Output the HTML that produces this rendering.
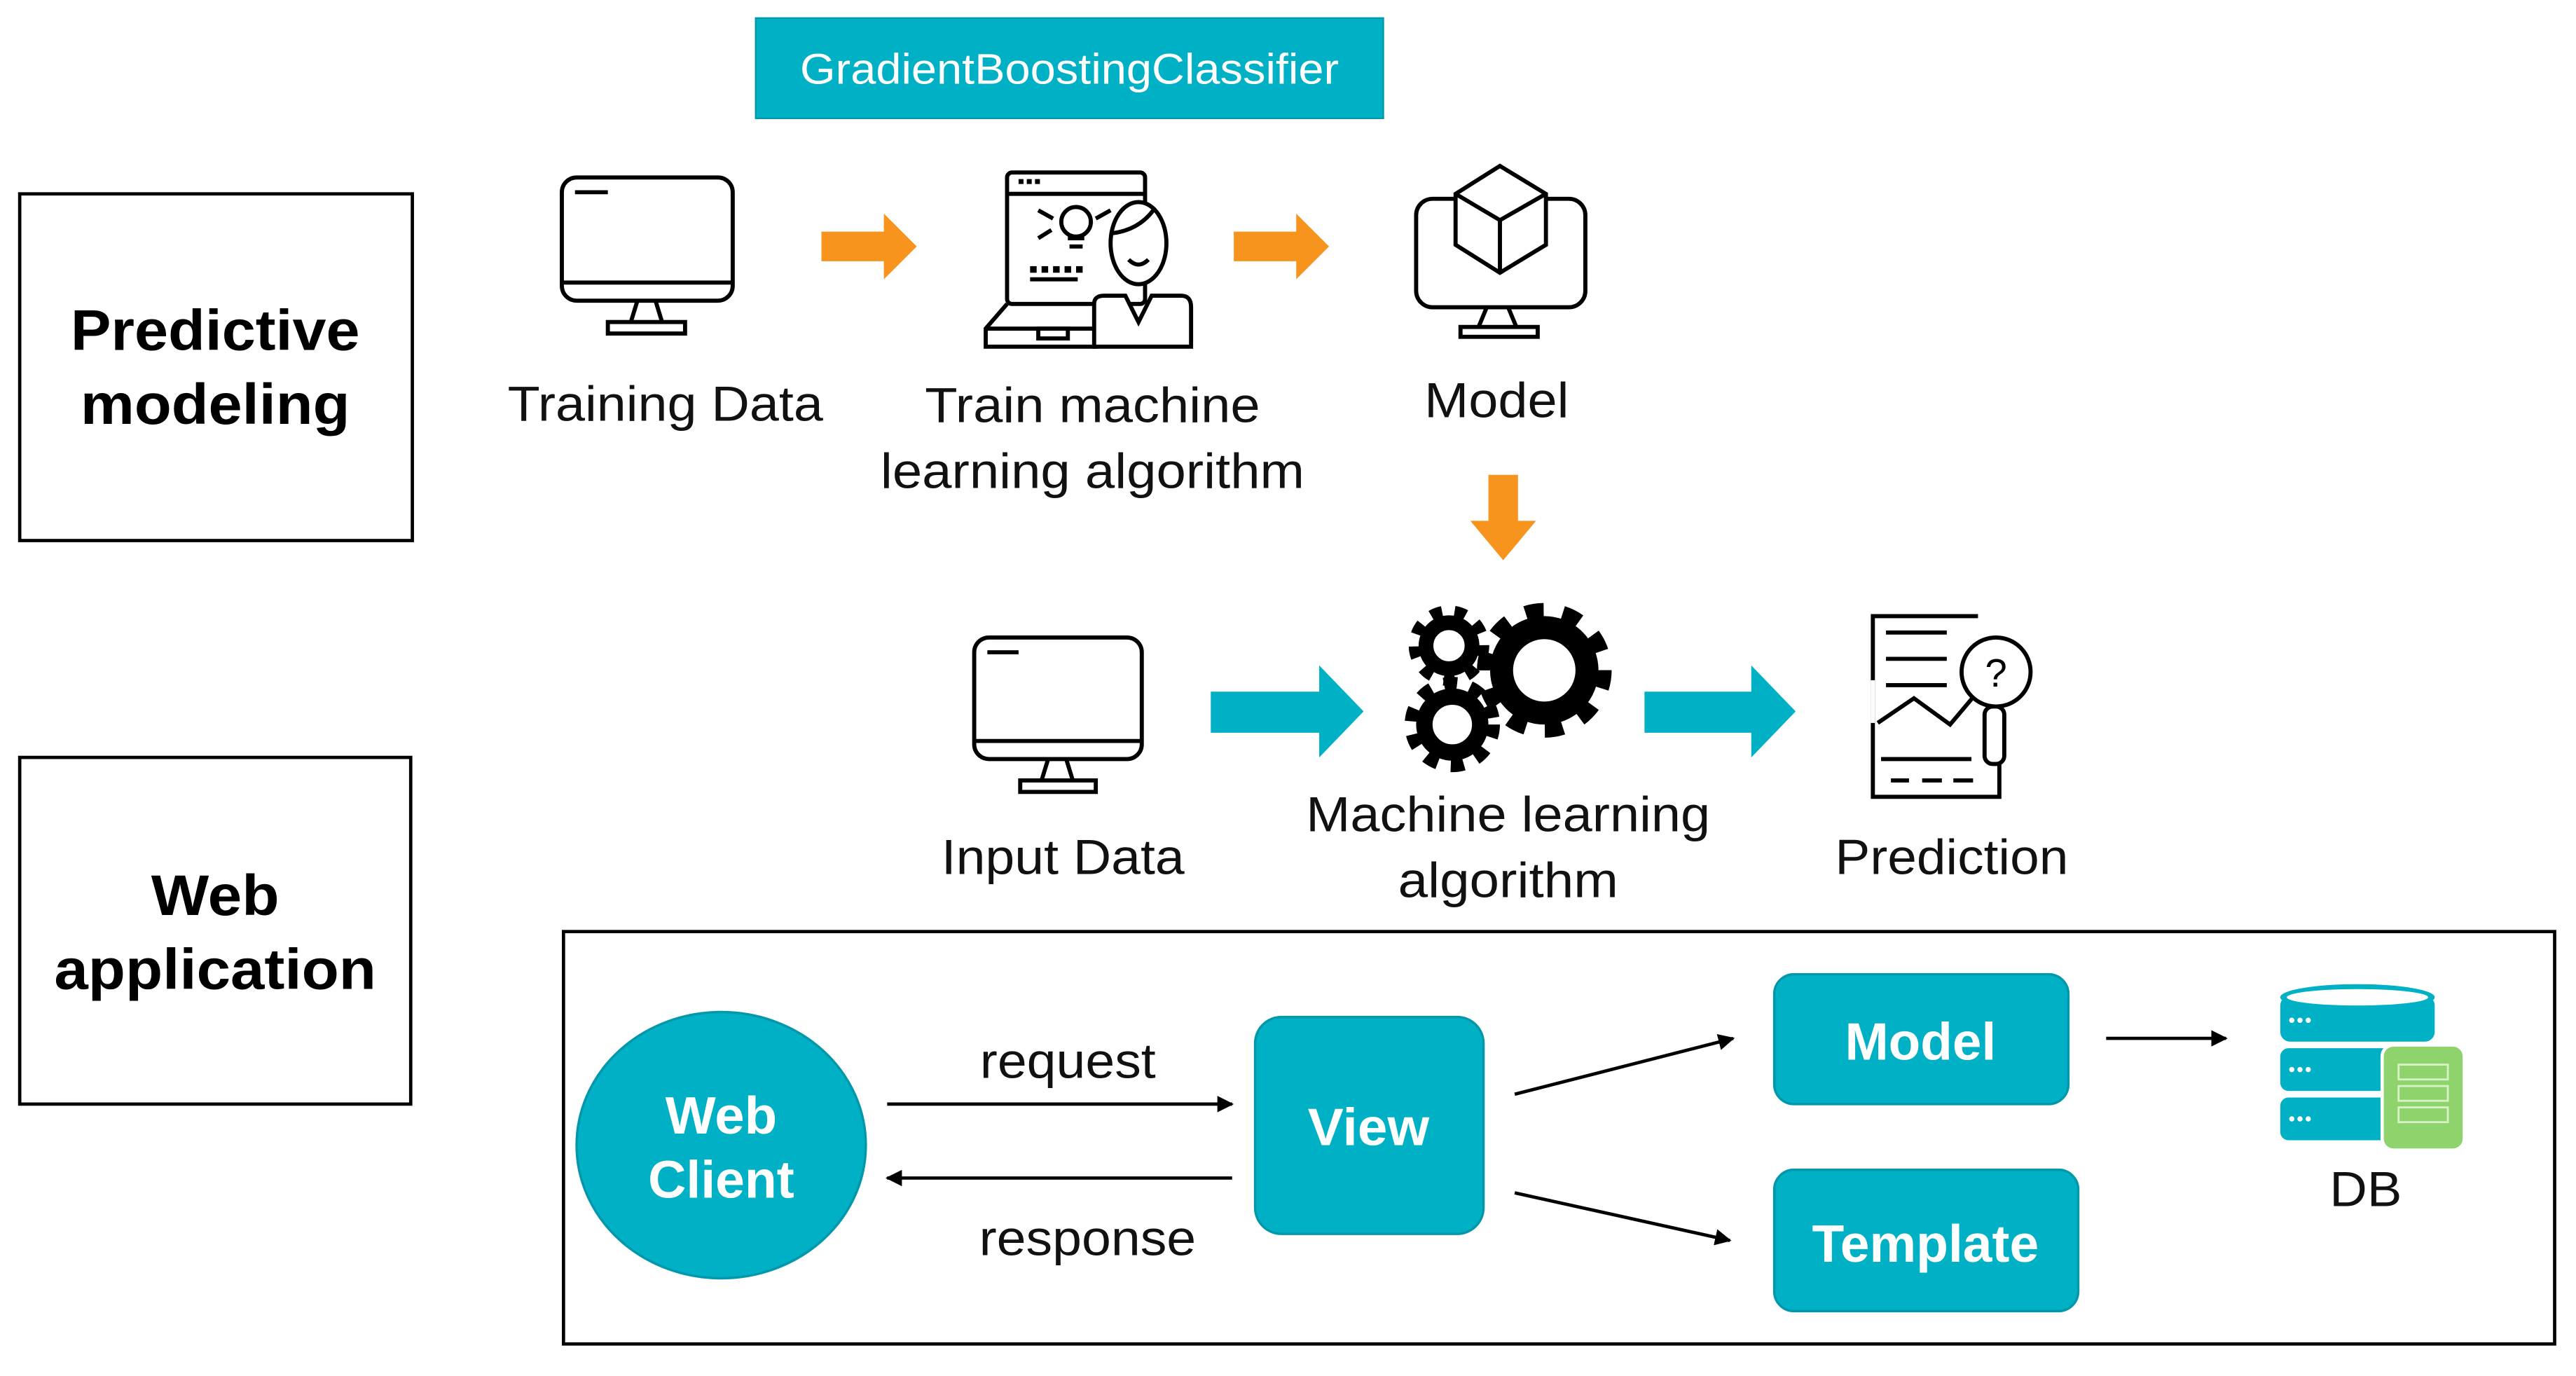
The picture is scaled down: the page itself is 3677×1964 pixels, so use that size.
<!DOCTYPE html>
<html><head><meta charset="utf-8"><style>
html,body{margin:0;padding:0;background:#fff;}
svg{display:block;}
text{font-family:"Liberation Sans",Arial,sans-serif;}
</style></head><body>
<svg width="3677" height="1964" viewBox="0 0 1568 837.5" preserveAspectRatio="none" xmlns="http://www.w3.org/2000/svg">
<defs>
<marker id="ah" markerWidth="10" markerHeight="10" refX="9" refY="5" orient="auto" markerUnits="userSpaceOnUse">
<path d="M0,0 L10,5 L0,10 z" fill="#000"/></marker>
</defs>
<rect width="1568" height="837.5" fill="#fff"/>
<rect x="460" y="11" width="382" height="61" fill="#00B0C4" stroke="#0098aa" stroke-width="1"/>
<text x="651" y="51" font-size="26" fill="#fff" text-anchor="middle" textLength="328" lengthAdjust="spacingAndGlyphs">GradientBoostingClassifier</text>
<rect x="12" y="118" width="239" height="211" fill="none" stroke="#000" stroke-width="2"/>
<text x="131" y="213" font-size="35" font-weight="bold" text-anchor="middle" textLength="176" lengthAdjust="spacingAndGlyphs">Predictive</text>
<text x="131" y="258" font-size="35" font-weight="bold" text-anchor="middle" textLength="164" lengthAdjust="spacingAndGlyphs">modeling</text>
<rect x="12" y="461" width="238" height="211" fill="none" stroke="#000" stroke-width="2"/>
<text x="131" y="557" font-size="35" font-weight="bold" text-anchor="middle" textLength="78" lengthAdjust="spacingAndGlyphs">Web</text>
<text x="131" y="602" font-size="35" font-weight="bold" text-anchor="middle" textLength="196" lengthAdjust="spacingAndGlyphs">application</text>

<g fill="none" stroke="#000" stroke-width="2.5">
<rect x="342" y="108" width="104" height="75" rx="9"/>
<line x1="342" y1="172" x2="446" y2="172"/>
<line x1="350" y1="117" x2="370" y2="117"/>
<path d="M388,183 L384,196 M399,183 L403,196"/>
<rect x="370" y="196" width="47" height="7"/>
<rect x="593" y="388" width="102" height="74" rx="9"/>
<line x1="593" y1="451" x2="695" y2="451"/>
<line x1="601" y1="397" x2="620" y2="397"/>
<path d="M638,462 L634,475 M649,462 L653,475"/>
<rect x="621" y="475" width="46" height="7"/>
<rect x="862" y="121" width="103" height="66" rx="10"/>
<path d="M905,187 L900,199 M918,187 L923,199"/>
<rect x="889" y="199" width="47" height="6"/>
<path d="M913,101 L941,118 L941,149 L913,166 L886,149 L886,118 Z" fill="#fff"/>
<path d="M886,118 L913,134 L941,118 M913,134 L913,166"/>
<rect x="613" y="105" width="84" height="80" rx="3"/>
<line x1="613" y1="118" x2="697" y2="118"/>
<path d="M613,185 L600,200 L600,211 L668,211 M600,200 L668,200"/>
<rect x="632" y="200" width="18" height="6"/>
<circle cx="655" cy="135" r="9"/>
<path d="M650,145 L660,145 M651,150 L659,150"/>
<path d="M632,128 L641,133 M632,145 L640,140 M667,133 L676,128"/>
<ellipse cx="693" cy="148" rx="17" ry="25" fill="#fff"/>
<path d="M677,142 Q693,140 702,128"/>
<path d="M687,158 Q693,164 699,158"/>
<path d="M666,211 L666,185 Q666,180 672,180 L685,180 L693,196 L701,180 L719,180 Q725,180 725,187 L725,211 Z" fill="#fff"/>
<line x1="627" y1="170" x2="656" y2="170"/>
<path d="M1204,375 L1140,375 L1140,485 L1217,485 L1217,465"/>
<path d="M1140,414 L1140,440" stroke="#fff"/>
<path d="M1148,385 L1185,385 M1148,401 L1185,401 M1148,417 L1185,417"/>
<path d="M1143,440 L1165,425 L1187,441 L1203,422"/>
<path d="M1145,462 L1200,462"/>
<path d="M1151,475 L1162,475 M1170,475 L1182,475 M1189,475 L1201,475"/>
<circle cx="1215" cy="409" r="21" fill="#fff"/>
<rect x="1208" y="430" width="12" height="35" rx="5" fill="#fff"/>
</g>
<text x="1215" y="418" font-size="24" text-anchor="middle">?</text>
<g fill="#000">
<rect x="620" y="109" width="3" height="3"/><rect x="625" y="109" width="3" height="3"/><rect x="630" y="109" width="3" height="3"/>
<rect x="627" y="162" width="4" height="4"/><rect x="634" y="162" width="4" height="4"/><rect x="641" y="162" width="4" height="4"/><rect x="648" y="162" width="4" height="4"/><rect x="655" y="162" width="4" height="4"/>
</g>
<g fill="none" stroke="#000">
<circle cx="940" cy="408" r="26" stroke-width="14"/>
<circle cx="940" cy="408" r="36" stroke-width="10" stroke-dasharray="11 11.6"/>
<circle cx="882" cy="393" r="14" stroke-width="9"/>
<circle cx="882" cy="393" r="21" stroke-width="7" stroke-dasharray="7 7.6"/>
<circle cx="884" cy="441" r="17" stroke-width="10"/>
<circle cx="884" cy="441" r="25" stroke-width="8" stroke-dasharray="8 8.1"/>
</g>
<g font-size="30" text-anchor="middle" fill="#111" lengthAdjust="spacingAndGlyphs">
<text x="405" y="256" textLength="192" lengthAdjust="spacingAndGlyphs">Training Data</text>
<text x="665" y="257" textLength="204" lengthAdjust="spacingAndGlyphs">Train machine</text>
<text x="665" y="297" textLength="258" lengthAdjust="spacingAndGlyphs">learning algorithm</text>
<text x="911" y="254" textLength="88" lengthAdjust="spacingAndGlyphs">Model</text>
<text x="647" y="532" textLength="148" lengthAdjust="spacingAndGlyphs">Input Data</text>
<text x="918" y="506" textLength="246" lengthAdjust="spacingAndGlyphs">Machine learning</text>
<text x="918" y="546" textLength="134" lengthAdjust="spacingAndGlyphs">algorithm</text>
<text x="1188" y="532" textLength="142" lengthAdjust="spacingAndGlyphs">Prediction</text>
</g>
<g fill="#F7941D">
<path d="M500,141 L538,141 L538,130 L558,150 L538,170 L538,159 L500,159 Z"/>
<path d="M751,141 L789,141 L789,130 L809,150 L789,170 L789,159 L751,159 Z"/>
<path d="M906,289 L924,289 L924,317 L935,317 L915,341 L895,317 L906,317 Z"/>
</g>
<g fill="#00B0C4">
<path d="M737,421 L803,421 L803,405 L830,433 L803,461 L803,446 L737,446 Z"/>
<path d="M1001,421 L1066,421 L1066,405 L1093,433 L1066,461 L1066,446 L1001,446 Z"/>
</g>
<rect x="343" y="567" width="1212" height="251" fill="none" stroke="#000" stroke-width="2"/>
<ellipse cx="439" cy="697" rx="88" ry="81" fill="#00B0C4" stroke="#0098aa" stroke-width="1.5"/>
<text x="439" y="690" font-size="32" font-weight="bold" fill="#fff" text-anchor="middle" textLength="68" lengthAdjust="spacingAndGlyphs">Web</text>
<text x="439" y="729" font-size="32" font-weight="bold" fill="#fff" text-anchor="middle" textLength="89" lengthAdjust="spacingAndGlyphs">Client</text>
<rect x="764" y="619" width="139" height="132" rx="16" fill="#00B0C4" stroke="#0098aa" stroke-width="1.5"/>
<text x="833" y="697" font-size="32" font-weight="bold" fill="#fff" text-anchor="middle" textLength="74" lengthAdjust="spacingAndGlyphs">View</text>
<rect x="1080" y="593" width="179" height="79" rx="12" fill="#00B0C4" stroke="#0098aa" stroke-width="1.5"/>
<text x="1169" y="645" font-size="32" font-weight="bold" fill="#fff" text-anchor="middle" textLength="92" lengthAdjust="spacingAndGlyphs">Model</text>
<rect x="1080" y="712" width="185" height="86" rx="12" fill="#00B0C4" stroke="#0098aa" stroke-width="1.5"/>
<text x="1172" y="768" font-size="32" font-weight="bold" fill="#fff" text-anchor="middle" textLength="138" lengthAdjust="spacingAndGlyphs">Template</text>
<g stroke="#000" stroke-width="2" fill="none" marker-end="url(#ah)">
<line x1="540" y1="672" x2="750" y2="672"/>
<line x1="750" y1="717" x2="540" y2="717"/>
<line x1="922" y1="666" x2="1055" y2="632"/>
<line x1="922" y1="726" x2="1053" y2="755"/>
<line x1="1282" y1="632" x2="1355" y2="632"/>
</g>
<g font-size="30" text-anchor="middle" fill="#111">
<text x="650" y="656" textLength="107" lengthAdjust="spacingAndGlyphs">request</text>
<text x="662" y="764" textLength="132" lengthAdjust="spacingAndGlyphs">response</text>
<text x="1440" y="734" textLength="44" lengthAdjust="spacingAndGlyphs">DB</text>
</g>
<g>
<rect x="1388" y="606" width="94" height="28" rx="6" fill="#00B0C4"/>
<ellipse cx="1435" cy="607" rx="47" ry="8" fill="#00B0C4"/>
<ellipse cx="1435" cy="607" rx="43" ry="5" fill="#fff"/>
<rect x="1388" y="638" width="94" height="26" rx="5" fill="#00B0C4"/>
<rect x="1388" y="668" width="94" height="26" rx="5" fill="#00B0C4"/>
<rect x="1450" y="636" width="50" height="64" rx="7" fill="#8ED36B" stroke="#fff" stroke-width="2"/>
<g fill="none" stroke="#d8f2c8" stroke-width="1.2">
<rect x="1460" y="648" width="30" height="9"/><rect x="1460" y="661" width="30" height="9"/><rect x="1460" y="674" width="30" height="9"/>
</g>
<g fill="#fff"><circle cx="1395" cy="621" r="1.6"/><circle cx="1400" cy="621" r="1.6"/><circle cx="1405" cy="621" r="1.6"/>
<circle cx="1395" cy="651" r="1.6"/><circle cx="1400" cy="651" r="1.6"/><circle cx="1405" cy="651" r="1.6"/>
<circle cx="1395" cy="681" r="1.6"/><circle cx="1400" cy="681" r="1.6"/><circle cx="1405" cy="681" r="1.6"/></g>
</g>
</svg>
</body></html>
